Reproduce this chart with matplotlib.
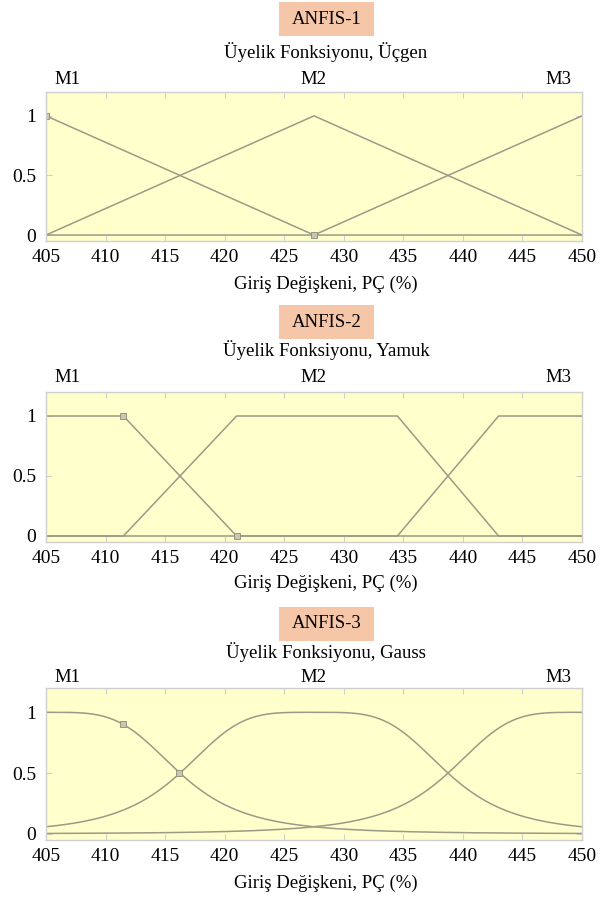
import numpy as np
import matplotlib
matplotlib.use("Agg")
import matplotlib.pyplot as plt
from matplotlib.patches import Rectangle

plt.rcParams['font.family'] = ['Liberation Serif', 'DejaVu Serif']

# ---- data ----
panel_names = ["ANFIS-1", "ANFIS-2", "ANFIS-3"]
panel_titles = ["Üyelik Fonksiyonu, Üçgen", "Üyelik Fonksiyonu, Yamuk", "Üyelik Fonksiyonu, Gauss"]
mf_labels = ["M1", "M2", "M3"]
xlabel = "Giriş Değişkeni, PÇ (%)"
x_ticks = [405, 410, 415, 420, 425, 430, 435, 440, 445, 450]
y_ticks = [0, 0.5, 1]
y_tick_labels = ["0", "0.5", "1"]

# triangular MFs: breakpoints (x, y)
tri_x = [[405, 427.5, 450], [405, 427.5, 450], [405, 427.5, 450]]
tri_y = [[1, 0, 0], [0, 1, 0], [0, 0, 1]]

# trapezoidal MFs: breakpoints (x, y)
trap_x = [[405, 411.5, 421, 450], [405, 411.5, 421, 434.5, 443, 450], [405, 434.5, 443, 450]]
trap_y = [[1, 1, 0, 0], [0, 0, 1, 1, 0, 0], [0, 0, 1, 1]]

# bell-shaped (gaussian-like) MF parameters: width a, slope b, centre c
bell_a = [11.25, 11.25, 11.25]
bell_b = [2, 2, 2]
bell_c = [405, 427.5, 450]

# highlighted (cursor) points in each panel
mark_x = [[405, 427.5], [411.5, 421], [411.5, 416.2]]
mark_y = [[1, 0], [1, 0], [0.9, 0.5]]

# ---- figure ----
W, H = 601, 898
fig = plt.figure(figsize=(W / 100, H / 100), dpi=100)

def fy(py):
    return 1 - py / H

ax_left, ax_right = 46, 582
ax_tops = [92, 392, 688]
ax_bots = [241, 542, 840]
box_cy = [19, 322, 624]
title_cy = [52, 350, 652]
m_cy = [80, 377, 678]
xlab_cy = [284, 583, 883]

line_c = '#9a9a88'
face_c = '#ffffcc'
spine_c = '#cfcfcf'
box_c = '#f6c6a8'
fs = 13.5

xg = np.linspace(405, 450, 600)

for i in range(3):
    ax = fig.add_axes([ax_left / W, fy(ax_bots[i]), (ax_right - ax_left) / W,
                       (ax_bots[i] - ax_tops[i]) / H])
    ax.set_facecolor(face_c)
    if i == 0:
        for xs, ys in zip(tri_x, tri_y):
            ax.plot(xs, ys, color=line_c, lw=1.1, solid_joinstyle='miter')
    elif i == 1:
        for xs, ys in zip(trap_x, trap_y):
            ax.plot(xs, ys, color=line_c, lw=1.1, solid_joinstyle='miter')
    else:
        for a, b, c in zip(bell_a, bell_b, bell_c):
            ax.plot(xg, 1.0 / (1.0 + np.abs((xg - c) / a) ** (2 * b)), color=line_c, lw=1.1)
    ax.plot(mark_x[i], mark_y[i], linestyle='none', marker='s', ms=4,
            mfc='#c8c8b0', mec='#8a8a78', mew=0.6)

    ax.set_xlim(405, 450)
    ax.set_ylim(-0.05, 1.2)
    ax.set_xticks(x_ticks)
    ax.set_xticklabels([str(t) for t in x_ticks])
    ax.set_yticks(y_ticks)
    ax.set_yticklabels(y_tick_labels)
    ax.tick_params(direction='in', length=4, color=spine_c, top=True, right=True,
                   labelsize=14, labelcolor='black')
    ax.tick_params(axis='x', pad=6)
    ax.tick_params(axis='y', pad=7)
    for s in ax.spines.values():
        s.set_color(spine_c)
        s.set_linewidth(1.0)

    # MF labels above the axes
    for lab, px in zip(mf_labels, [67, 313, 558]):
        fig.text(px / W, fy(m_cy[i]), lab, ha='center', va='center', fontsize=fs)

    fig.text(326 / W, fy(title_cy[i]), panel_titles[i], ha='center', va='center', fontsize=fs)
    fig.patches.append(Rectangle((279 / W, fy(box_cy[i] + 17)), 95 / W, 34 / H,
                                 transform=fig.transFigure, facecolor=box_c,
                                 edgecolor='none', zorder=0))
    fig.text(326.5 / W, fy(box_cy[i]), panel_names[i], ha='center', va='center', fontsize=fs)
    fig.text(326 / W, fy(xlab_cy[i]), xlabel, ha='center', va='center', fontsize=fs)

fig.savefig("out.png", dpi=100)
